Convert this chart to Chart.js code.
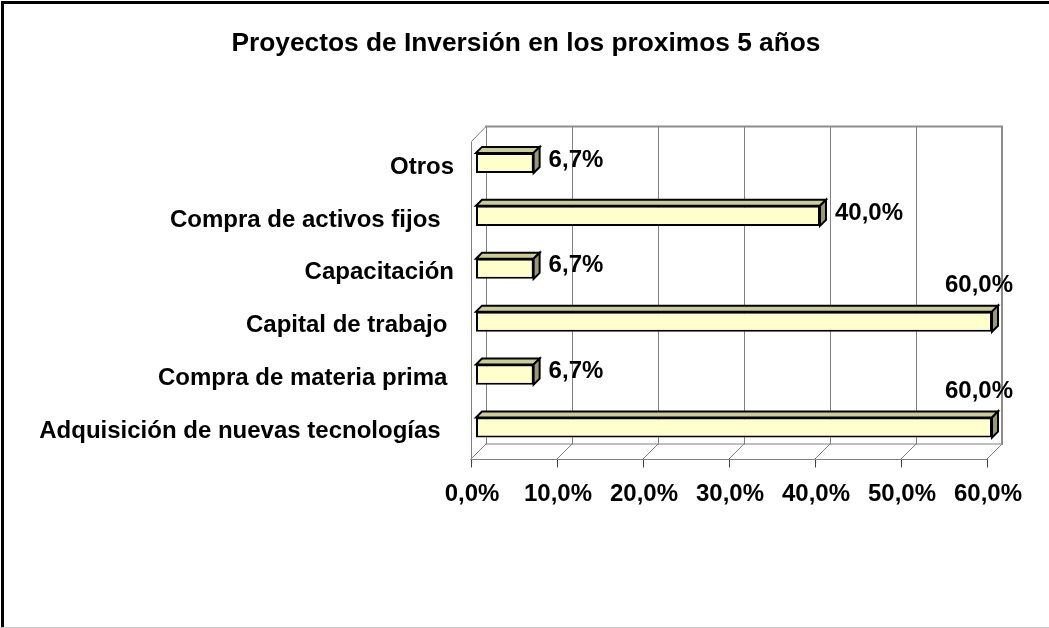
<!DOCTYPE html>
<html>
<head>
<meta charset="utf-8">
<title>Proyectos de Inversión</title>
<script src="https://cdn.jsdelivr.net/npm/chart.js@4.4.1/dist/chart.umd.min.js"></script>
<style>
  html, body { margin: 0; padding: 0; background: #fff; }
  #wrap { width: 1049px; height: 628px; }
</style>
</head>
<body>
<div id="wrap"><canvas id="chart" width="1049" height="628"></canvas></div>
<script>
'use strict';

// --- data (top to bottom, as in the picture; trailing spaces as in the source sheet) ---
const CATEGORIES = [
  'Otros',
  'Compra de activos fijos  ',
  'Capacitación',
  'Capital de trabajo ',
  'Compra de materia prima ',
  'Adquisición de nuevas tecnologías  ',
];
const VALUES = [6.7, 40.0, 6.7, 60.0, 6.7, 60.0];
const X_TICKS = [0, 10, 20, 30, 40, 50, 60];
const TITLE = 'Proyectos de Inversión en los proximos 5 años';

const FONT = 'Arial, "Liberation Sans", sans-serif';
const DEPTH = 15;      // wall depth (px)
const FRONT = 5;       // bars sit this far behind the front edge
const BAR_D = 6;       // bar top/side face depth

const fmtPct = v => v.toFixed(1).replace('.', ',') + '%';

// Draws the frame, title, 3D walls, floor, bar faces and value labels
const excel3d = {
  id: 'excel3d',
  beforeDraw(chart) {
    const { ctx, width, height } = chart;
    ctx.save();
    ctx.fillStyle = '#fff';
    ctx.fillRect(0, 0, width, height);
    ctx.fillStyle = '#000';
    ctx.fillRect(1, 1, width - 1, 3);
    ctx.fillRect(1, 1, 3, height - 1);
    ctx.fillStyle = '#c8c8c8';
    ctx.fillRect(0, height - 1, width, 1);
    // title
    ctx.font = 'bold 26.3px ' + FONT;
    ctx.textAlign = 'center';
    ctx.textBaseline = 'alphabetic';
    ctx.fillStyle = '#000';
    ctx.fillText(TITLE, 526, 51);
    ctx.restore();
  },
  beforeDatasetsDraw(chart) {
    const { ctx, chartArea: a, scales: { x } } = chart;
    const back = DEPTH - FRONT;
    const fx = v => x.getPixelForValue(v) - FRONT;
    const bx = v => x.getPixelForValue(v) + back;
    const fTop = a.top + FRONT, fBot = a.bottom + FRONT;
    const bTop = a.top - back, bBot = a.bottom - back;
    const x0 = X_TICKS[0], x1 = X_TICKS[X_TICKS.length - 1];

    ctx.save();
    ctx.lineCap = 'square';
    // back wall gridlines
    ctx.strokeStyle = '#808080';
    ctx.lineWidth = 1;
    for (const t of X_TICKS) {
      const px = Math.round(bx(t)) + 0.5;
      ctx.beginPath(); ctx.moveTo(px, bTop); ctx.lineTo(px, bBot); ctx.stroke();
    }
    // floor diagonals + tick marks
    for (const t of X_TICKS) {
      ctx.strokeStyle = '#808080';
      ctx.beginPath(); ctx.moveTo(fx(t), fBot); ctx.lineTo(bx(t), bBot); ctx.stroke();
      ctx.strokeStyle = '#404040';
      const px = Math.round(fx(t)) + 0.5;
      ctx.beginPath(); ctx.moveTo(px, fBot); ctx.lineTo(px, fBot + 8); ctx.stroke();
    }
    // floor edges
    ctx.strokeStyle = '#808080';
    ctx.beginPath(); ctx.moveTo(bx(x0), bBot); ctx.lineTo(bx(x1), bBot); ctx.stroke();
    ctx.beginPath(); ctx.moveTo(fx(x0), fBot + 0.5); ctx.lineTo(fx(x1), fBot + 0.5); ctx.stroke();
    // left wall
    ctx.beginPath();
    ctx.moveTo(Math.round(fx(x0)) + 0.5, fBot);
    ctx.lineTo(Math.round(fx(x0)) + 0.5, fTop);
    ctx.lineTo(bx(x0), bTop);
    ctx.stroke();
    // back wall top & right border (thicker)
    ctx.strokeStyle = '#8c8c8c';
    ctx.lineWidth = 2;
    ctx.beginPath();
    ctx.moveTo(bx(x0), bTop);
    ctx.lineTo(bx(x1), bTop);
    ctx.lineTo(bx(x1), bBot);
    ctx.stroke();
    ctx.restore();
  },
  afterDatasetsDraw(chart) {
    const { ctx } = chart;
    const meta = chart.getDatasetMeta(0);
    ctx.save();
    ctx.lineWidth = 2;
    ctx.lineJoin = 'miter';
    ctx.strokeStyle = '#000';
    meta.data.forEach((bar, i) => {
      const { x, y, base, height } = bar.getProps(['x', 'y', 'base', 'height'], true);
      const top = y - height / 2, bot = y + height / 2;
      // top face
      ctx.fillStyle = '#cccc99';
      ctx.beginPath();
      ctx.moveTo(base, top);
      ctx.lineTo(base + BAR_D, top - BAR_D);
      ctx.lineTo(x + BAR_D, top - BAR_D);
      ctx.lineTo(x, top);
      ctx.closePath();
      ctx.fill(); ctx.stroke();
      // side face
      ctx.fillStyle = '#999977';
      ctx.beginPath();
      ctx.moveTo(x, top);
      ctx.lineTo(x + BAR_D, top - BAR_D);
      ctx.lineTo(x + BAR_D, bot - BAR_D);
      ctx.lineTo(x, bot);
      ctx.closePath();
      ctx.fill(); ctx.stroke();

      // value label
      const txt = fmtPct(VALUES[i]);
      ctx.font = 'bold 24px ' + FONT;
      ctx.fillStyle = '#000';
      ctx.textBaseline = 'middle';
      const w = ctx.measureText(txt).width;
      let lx = x + BAR_D + 9, ly = y - 3;
      ctx.textAlign = 'left';
      if (lx + w > chart.width - 30) {
        ctx.textAlign = 'right';
        lx = x + BAR_D + 15;
        ly = y - 36;
      }
      ctx.fillText(txt, lx, ly);
    });
    ctx.restore();
  },
};

Chart.defaults.font.family = FONT;
Chart.defaults.color = '#000';

new Chart(document.getElementById('chart'), {
  type: 'bar',
  data: {
    labels: CATEGORIES,
    datasets: [{
      data: VALUES,
      backgroundColor: '#ffffcc',
      borderColor: '#000',
      borderWidth: 2,
      borderSkipped: false,
      barPercentage: 0.38,
      categoryPercentage: 1,
    }],
  },
  options: {
    indexAxis: 'y',
    responsive: false,
    animation: false,
    layout: { padding: { left: 0, right: 57, top: 136.5, bottom: 0 } },
    plugins: {
      legend: { display: false },
      tooltip: { enabled: false },
      title: { display: false },
    },
    scales: {
      x: {
        min: 0,
        max: 60,
        grid: { display: false },
        border: { display: false },
        afterBuildTicks: s => { s.ticks = X_TICKS.map(v => ({ value: v })); },
        afterFit: s => { s.height = 174; },
        ticks: {
          autoSkip: false,
          maxRotation: 0,
          padding: 18,
          labelOffset: -4,
          font: { size: 24, weight: 'bold' },
          callback: v => fmtPct(v),
        },
      },
      y: {
        grid: { display: false },
        border: { display: false },
        afterFit: s => { s.width = 476; },
        ticks: {
          autoSkip: false,
          padding: 14,
          labelOffset: 4,
          font: { size: 24, weight: 'bold' },
        },
      },
    },
  },
  plugins: [excel3d],
});
</script>
</body>
</html>
